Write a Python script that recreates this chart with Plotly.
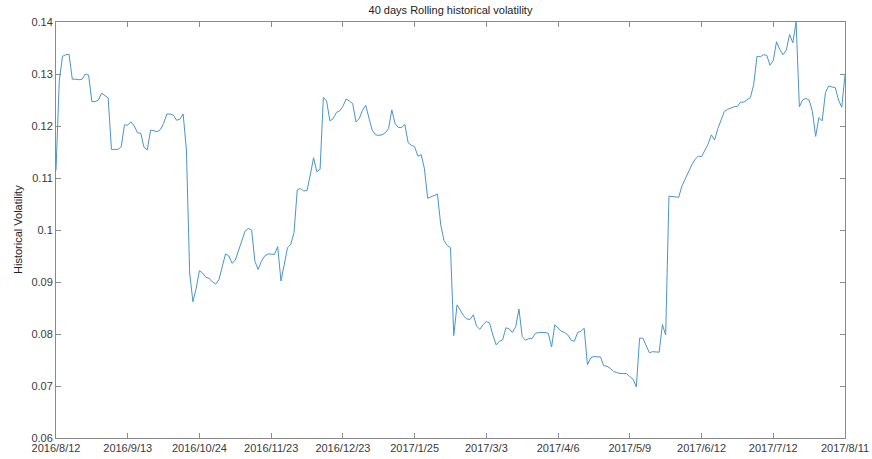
import plotly.graph_objects as go

# 40-day rolling historical volatility, one value per trading day
volatility = [
    0.1115, 0.1286, 0.1334, 0.1337, 0.1338, 0.1290, 0.1290, 0.1289, 0.1290, 0.1300,
    0.1298, 0.1247, 0.1247, 0.1250, 0.1263, 0.1258, 0.1254, 0.1155, 0.1155, 0.1155,
    0.1160, 0.1202, 0.1202, 0.1208, 0.1200, 0.1187, 0.1186, 0.1159, 0.1154, 0.1192,
    0.1191, 0.1189, 0.1193, 0.1205, 0.1223, 0.1223, 0.1221, 0.1211, 0.1213, 0.1223,
    0.1154, 0.0917, 0.0862, 0.0888, 0.0922, 0.0917, 0.0909, 0.0907, 0.0900, 0.0896,
    0.0905, 0.0930, 0.0954, 0.0950, 0.0936, 0.0942, 0.0960, 0.0982, 0.0998, 0.1003,
    0.1000, 0.0940, 0.0924, 0.0940, 0.0950, 0.0954, 0.0954, 0.0953, 0.0968, 0.0902,
    0.0933, 0.0966, 0.0972, 0.0995, 0.1077, 0.1080, 0.1075, 0.1076, 0.1106, 0.1139,
    0.1112, 0.1117, 0.1255, 0.1248, 0.1210, 0.1214, 0.1226, 0.1229, 0.1238, 0.1252,
    0.1248, 0.1243, 0.1208, 0.1214, 0.1230, 0.1240, 0.1215, 0.1192, 0.1183, 0.1182,
    0.1183, 0.1187, 0.1195, 0.1231, 0.1205, 0.1197, 0.1197, 0.1203, 0.1168, 0.1163,
    0.1160, 0.1142, 0.1145, 0.1118, 0.1061, 0.1064, 0.1066, 0.1069, 0.1010, 0.0980,
    0.0970, 0.0966, 0.0797, 0.0856, 0.0846, 0.0835, 0.0829, 0.0828, 0.0837, 0.0815,
    0.0809, 0.0818, 0.0824, 0.0821, 0.0798, 0.0779, 0.0786, 0.0789, 0.0812, 0.0810,
    0.0803, 0.0814, 0.0848, 0.0795, 0.0788, 0.0791, 0.0791, 0.0801, 0.0803, 0.0803,
    0.0803, 0.0801, 0.0775, 0.0818, 0.0812, 0.0805, 0.0803, 0.0798, 0.0788, 0.0786,
    0.0803, 0.0805, 0.0811, 0.0741, 0.0754, 0.0757, 0.0756, 0.0756, 0.0739, 0.0738,
    0.0734, 0.0728, 0.0726, 0.0724, 0.0724, 0.0724, 0.0718, 0.0713, 0.0698, 0.0792,
    0.0792, 0.0779, 0.0764, 0.0766, 0.0766, 0.0765, 0.0818, 0.0798, 0.1065, 0.1064,
    0.1064, 0.1063, 0.1085, 0.1099, 0.1110, 0.1125, 0.1136, 0.1142, 0.1141, 0.1152,
    0.1165, 0.1183, 0.1173, 0.1195, 0.1210, 0.1228, 0.1232, 0.1235, 0.1237, 0.1238,
    0.1246, 0.1246, 0.1250, 0.1255, 0.1280, 0.1334, 0.1333, 0.1337, 0.1336, 0.1317,
    0.1326, 0.1362, 0.1347, 0.1337, 0.1346, 0.1376, 0.1360, 0.1400, 0.1237, 0.1250,
    0.1253, 0.1250, 0.1228, 0.1180, 0.1216, 0.1210, 0.1264, 0.1277, 0.1275, 0.1274,
    0.1250, 0.1236, 0.1298,
]
day_index = list(range(len(volatility)))

# date labels, one every 22 trading days
date_tick_index = [0, 22, 44, 66, 88, 110, 132, 154, 176, 198, 220, 242]
date_tick_labels = [
    "2016/8/12", "2016/9/13", "2016/10/24", "2016/11/23", "2016/12/23", "2017/1/25",
    "2017/3/3", "2017/4/6", "2017/5/9", "2017/6/12", "2017/7/12", "2017/8/11",
]
vol_tick_values = [0.06, 0.07, 0.08, 0.09, 0.10, 0.11, 0.12, 0.13, 0.14]
vol_tick_labels = ["0.06", "0.07", "0.08", "0.09", "0.1", "0.11", "0.12", "0.13", "0.14"]

FONT = "Liberation Sans, Arial, sans-serif"
AXIS_COLOR = "#8a8a8a"
TEXT_COLOR = "#3a3a3a"

fig = go.Figure(
    go.Scatter(
        x=day_index,
        y=volatility,
        mode="lines",
        line=dict(color="#4a95c8", width=1),
        hoverinfo="x+y",
    )
)

axis_common = dict(
    showgrid=False,
    zeroline=False,
    showline=True,
    linecolor=AXIS_COLOR,
    linewidth=1,
    mirror="ticks",
    ticks="inside",
    ticklen=5,
    tickcolor=AXIS_COLOR,
    tickfont=dict(family=FONT, size=11, color=TEXT_COLOR),
    automargin=False,
)

fig.update_xaxes(
    range=[0, 242],
    tickmode="array",
    tickvals=date_tick_index,
    ticktext=date_tick_labels,
    **axis_common,
)
fig.update_yaxes(
    range=[0.06, 0.14],
    tickmode="array",
    tickvals=vol_tick_values,
    ticktext=vol_tick_labels,
    **axis_common,
)

fig.update_layout(
    width=872,
    height=459,
    margin=dict(l=56, r=27, t=22, b=21),
    paper_bgcolor="white",
    plot_bgcolor="white",
    showlegend=False,
    title=dict(
        text="40 days Rolling historical volatility",
        font=dict(family=FONT, size=11, color="#222222"),
        x=0.5,
        xref="paper",
        xanchor="center",
        y=1 - 10 / 459,
        yref="container",
        yanchor="middle",
    ),
    annotations=[
        dict(
            text="Historical Volatility",
            textangle=-90,
            xref="paper",
            yref="paper",
            x=-38 / 789,
            y=0.5,
            xanchor="center",
            yanchor="middle",
            showarrow=False,
            font=dict(family=FONT, size=11, color="#222222"),
        )
    ],
)

fig.write_html("out.html")
